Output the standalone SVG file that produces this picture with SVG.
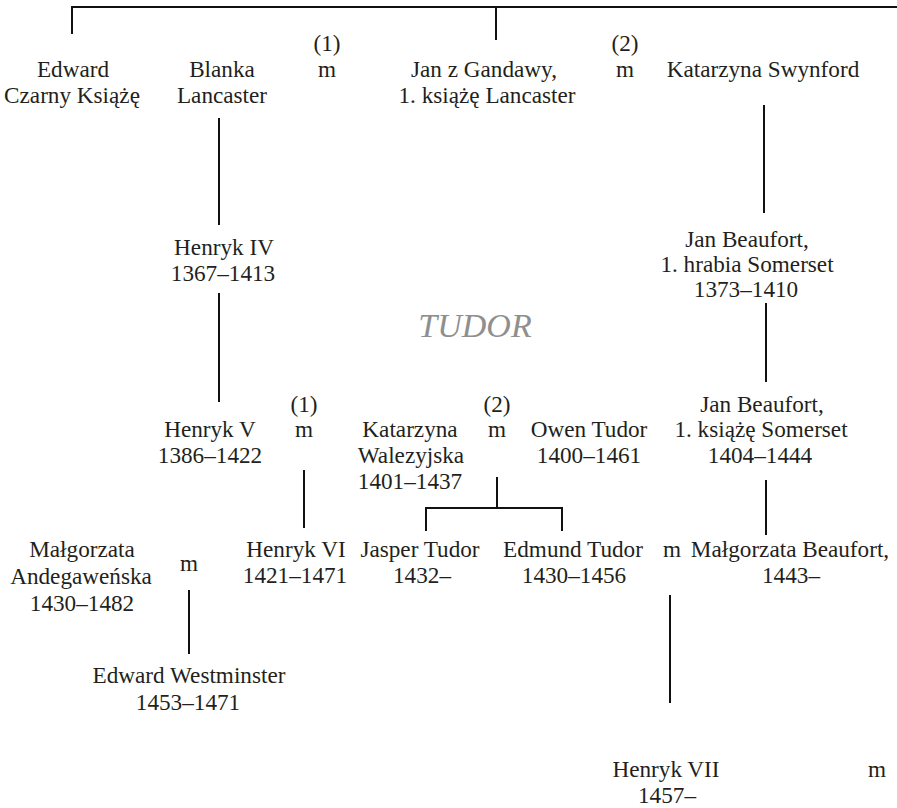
<svg xmlns="http://www.w3.org/2000/svg" width="897" height="808" viewBox="0 0 897 808">
<style>
text{font-family:"Liberation Serif","DejaVu Serif",serif;font-size:23.2px;fill:#231f20;text-anchor:middle}
.tudor{font-style:italic;font-size:34px;fill:#8f8f8f}
.c{fill:none;stroke:#111;stroke-width:2}
</style>
<rect width="897" height="808" fill="#fff"/>
<g id="connectors">
<path class="c" d="M72,34 V7 H897"/>
<path class="c" d="M496,7 V40"/>
<path class="c" d="M219,118 V225"/>
<path class="c" d="M219,293 V402"/>
<path class="c" d="M764,105 V213"/>
<path class="c" d="M766,303 V382"/>
<path class="c" d="M304,470 V528"/>
<path class="c" d="M497,477 V508"/>
<path class="c" d="M426,531 V508 H562 V531"/>
<path class="c" d="M766,480 V535"/>
<path class="c" d="M189,590 V654"/>
<path class="c" d="M670,595 V703"/>
</g>
<g id="edward"><text x="73" y="77">Edward</text><text x="72" y="103">Czarny Książę</text></g>
<g id="blanka"><text x="222" y="77">Blanka</text><text x="222" y="103">Lancaster</text></g>
<g id="m1"><text x="327" y="51">(1)</text><text x="327" y="77">m</text></g>
<g id="jan-gandawy"><text x="484" y="77">Jan z Gandawy,</text><text x="487" y="103">1. książę Lancaster</text></g>
<g id="m2"><text x="625" y="51">(2)</text><text x="625" y="77">m</text></g>
<g id="katarzyna-swynford"><text x="763" y="77">Katarzyna Swynford</text></g>
<g id="henryk4"><text x="224" y="255">Henryk IV</text><text x="223" y="281">1367–1413</text></g>
<g id="jan-beaufort1"><text x="747" y="247">Jan Beaufort,</text><text x="747" y="272">1. hrabia Somerset</text><text x="746" y="297">1373–1410</text></g>
<g id="tudor-title"><text class="tudor" x="475" y="337">TUDOR</text></g>
<g id="m3"><text x="304" y="412">(1)</text><text x="304" y="437">m</text></g>
<g id="henryk5"><text x="210" y="437">Henryk V</text><text x="210" y="463">1386–1422</text></g>
<g id="katarzyna-walezyjska"><text x="410" y="437">Katarzyna</text><text x="411" y="463">Walezyjska</text><text x="410" y="489">1401–1437</text></g>
<g id="m4"><text x="497" y="412">(2)</text><text x="497" y="437">m</text></g>
<g id="owen-tudor"><text x="589" y="437">Owen Tudor</text><text x="589" y="463">1400–1461</text></g>
<g id="jan-beaufort2"><text x="762" y="412">Jan Beaufort,</text><text x="761" y="437">1. książę Somerset</text><text x="760" y="463">1404–1444</text></g>
<g id="malgorzata-andegawenska"><text x="82" y="557">Małgorzata</text><text x="81" y="584">Andegaweńska</text><text x="82" y="611">1430–1482</text></g>
<g id="m5"><text x="189" y="571">m</text></g>
<g id="henryk6"><text x="296" y="557">Henryk VI</text><text x="295" y="583">1421–1471</text></g>
<g id="jasper-tudor"><text x="420" y="557">Jasper Tudor</text><text x="422" y="583">1432–</text></g>
<g id="edmund-tudor"><text x="573" y="557">Edmund Tudor</text><text x="574" y="583">1430–1456</text></g>
<g id="m6"><text x="672" y="557">m</text></g>
<g id="malgorzata-beaufort"><text x="790" y="557">Małgorzata Beaufort,</text><text x="791" y="583">1443–</text></g>
<g id="edward-westminster"><text x="189" y="683">Edward Westminster</text><text x="188" y="710">1453–1471</text></g>
<g id="henryk7"><text x="666" y="777">Henryk VII</text><text x="667" y="803">1457–</text></g>
<g id="m7"><text x="877" y="777">m</text></g>
</svg>
